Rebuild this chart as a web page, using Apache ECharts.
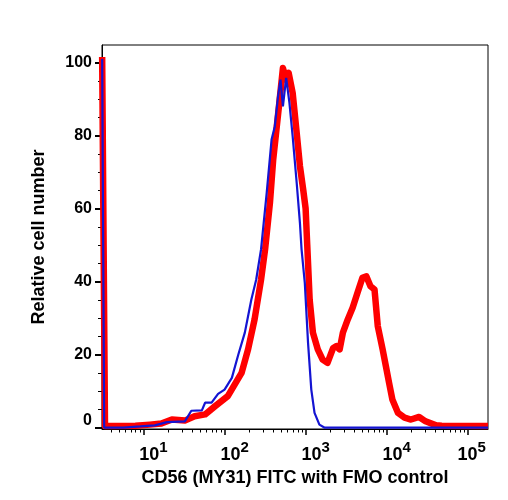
<!DOCTYPE html>
<html>
<head>
<meta charset="utf-8">
<script src="https://cdn.jsdelivr.net/npm/echarts@6/dist/echarts.min.js"></script>
<style>
  html, body { margin: 0; padding: 0; background: #fff; }
  #chart { width: 508px; height: 500px; }
</style>
</head>
<body>
<div id="chart"></div>
<script>
// x values are log10 of the FITC intensity (decades), y values are relative cell number
const sampleLog = [0.49, 0.51, 0.525, 0.56, 0.90, 1.08, 1.22, 1.35, 1.51, 1.63, 1.76, 1.88, 2.04, 2.21, 2.29, 2.37, 2.45, 2.50, 2.56, 2.60, 2.64, 2.68, 2.72, 2.76, 2.79, 2.84, 2.89, 2.93, 2.97, 3.00, 3.02, 3.05, 3.09, 3.15, 3.21, 3.27, 3.34, 3.38, 3.42, 3.46, 3.52, 3.58, 3.64, 3.70, 3.75, 3.80, 3.85, 3.89, 3.95, 3.99, 4.03, 4.07, 4.14, 4.22, 4.30, 4.40, 4.48, 4.61, 4.68, 5.25]
const sampleCount = [101.5, 101.5, 0.4, 0.4, 0.5, 0.8, 1.1, 2.2, 1.9, 3.1, 3.6, 5.8, 8.6, 15, 21.4, 29.6, 40.5, 48.8, 61.6, 73.4, 81.6, 89.9, 98.5, 95.3, 97.2, 91.7, 80.7, 71.6, 65.2, 60, 50, 35, 26, 21.4, 18.6, 17.7, 21.8, 22.3, 21.4, 26, 29.6, 32.8, 36.9, 41, 41.4, 38.7, 37.8, 27.8, 21.4, 16.8, 12.2, 7.7, 4, 2.7, 2.2, 2.9, 1.7, 0.6, 0.5, 0.4]

const fmoLog = [0.49, 0.50, 0.515, 0.75, 0.96, 1.14, 1.29, 1.51, 1.59, 1.72, 1.76, 1.84, 1.92, 2.00, 2.09, 2.17, 2.25, 2.33, 2.39, 2.45, 2.52, 2.58, 2.62, 2.66, 2.69, 2.72, 2.76, 2.80, 2.84, 2.89, 2.93, 2.95, 2.99, 3.03, 3.07, 3.11, 3.17, 3.23, 5.25]
const fmoCount = [101, 101, 0, 0, 0.3, 0.6, 1.5, 1.7, 4.6, 4.7, 6.8, 6.8, 9.2, 10.4, 13.6, 20, 26, 35, 40.5, 48.8, 64.3, 78.9, 82.5, 90.8, 95.3, 88, 95.8, 89, 79.8, 67, 56, 48.8, 39.6, 23.2, 10.4, 4, 0.8, 0, 0]

const xMajor = [1, 2, 3, 4, 5]
const yMajor = [0, 20, 40, 60, 80, 100]
const yMinor = [5, 10, 15, 25, 30, 35, 45, 50, 55, 65, 70, 75, 85, 90, 95]

// minor ticks of a log axis: 2..9 inside each decade
const xMinor = []
for (let d = 0; d < 6; d++) {
  for (let k = 2; k <= 9; k++) {
    const v = d + Math.log10(k)
    if (v > 0.49 && v < 5.25) xMinor.push(v)
  }
}

const xMin = 0.488
const xMax = 5.25
const yMin = -0.4
const yMax = 104.8

const font = "'Liberation Sans', Arial, sans-serif"
const chart = echarts.init(document.getElementById('chart'))

const option = {
  animation: false,
  grid: {
    left: 102,
    right: 20,
    top: 45,
    bottom: 71,
    show: true,
    borderColor: '#000',
    borderWidth: 1,
    backgroundColor: 'transparent'
  },
  xAxis: [
    {
      type: 'value',
      position: 'bottom',
      min: xMin,
      max: xMax,
      axisLine: { onZero: false, lineStyle: { color: '#000', width: 1 } },
      axisTick: { customValues: xMajor, length: 6, lineStyle: { color: '#000', width: 1.5 } },
      axisLabel: {
        customValues: xMajor,
        margin: 11,
        color: '#000',
        fontFamily: font,
        formatter: (v) => (v === 5 ? '{b5|10}{s|' + v + '}' : '{b|10}{s|' + v + '}'),
        rich: {
          b: { fontSize: 18, fontWeight: 'bold', fontFamily: font, color: '#000', padding: [0, 0, 0, 20] },
          b5: { fontSize: 18, fontWeight: 'bold', fontFamily: font, color: '#000', padding: [0, 0, 0, 8] },
          s: { fontSize: 15, fontWeight: 'bold', fontFamily: font, color: '#000', padding: [0, 0, 15, 0] }
        }
      },
      splitLine: { show: false },
      name: 'CD56 (MY31) FITC with FMO control',
      nameLocation: 'middle',
      nameGap: 35,
      nameTextStyle: { color: '#000', fontSize: 18, fontWeight: 'bold', fontFamily: font }
    },
    {
      type: 'value',
      position: 'bottom',
      min: xMin,
      max: xMax,
      axisLine: { show: false, onZero: false },
      axisTick: { customValues: xMinor, length: 3.5, lineStyle: { color: '#000', width: 1 } },
      axisLabel: { show: false },
      splitLine: { show: false }
    }
  ],
  yAxis: [
    {
      type: 'value',
      position: 'left',
      min: yMin,
      max: yMax,
      axisLine: { show: true, onZero: false, lineStyle: { color: '#000', width: 1 } },
      axisTick: { customValues: yMajor, length: 7, lineStyle: { color: '#000', width: 2 } },
      axisLabel: {
        customValues: yMajor,
        margin: 10,
        color: '#000',
        fontSize: 16,
        fontWeight: 'bold',
        fontFamily: font,
        formatter: (v) => (v === 0 ? '{z|0}' : String(v)),
        rich: {
          z: { fontSize: 16, fontWeight: 'bold', fontFamily: font, color: '#000', padding: [0, 0, 13, 0] }
        }
      },
      splitLine: { show: false },
      name: 'Relative cell number',
      nameLocation: 'middle',
      nameGap: 54,
      nameTextStyle: { color: '#000', fontSize: 18, fontWeight: 'bold', fontFamily: font }
    },
    {
      type: 'value',
      position: 'left',
      min: yMin,
      max: yMax,
      axisLine: { show: false, onZero: false },
      axisTick: { customValues: yMinor, length: 4, lineStyle: { color: '#000', width: 1 } },
      axisLabel: { show: false },
      splitLine: { show: false }
    }
  ],
  series: [
    {
      name: 'CD56 FITC',
      type: 'line',
      xAxisIndex: 0,
      yAxisIndex: 0,
      showSymbol: false,
      data: sampleLog.map((x, i) => [x, sampleCount[i]]),
      lineStyle: { color: '#ff0000', width: 6.5, join: 'round' },
      itemStyle: { color: '#ff0000' },
      z: 2
    },
    {
      name: 'FMO control',
      type: 'line',
      xAxisIndex: 0,
      yAxisIndex: 0,
      showSymbol: false,
      data: fmoLog.map((x, i) => [x, fmoCount[i]]),
      lineStyle: { color: '#1414d2', width: 2.2 },
      itemStyle: { color: '#1414d2' },
      z: 3
    }
  ]
}

chart.setOption(option)
</script>
</body>
</html>
